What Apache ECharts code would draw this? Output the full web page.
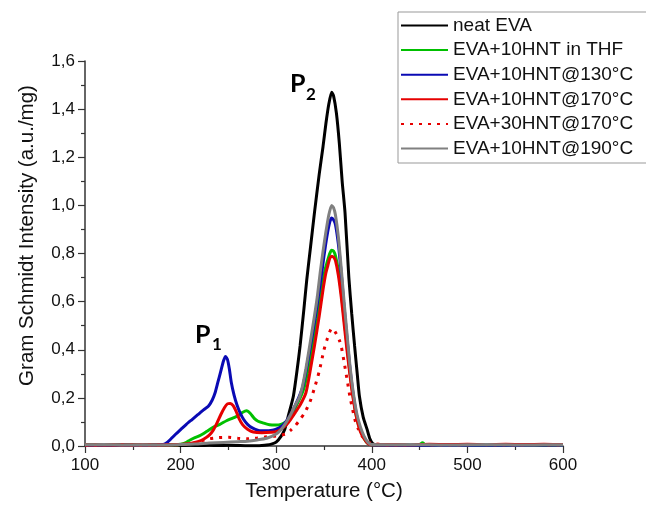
<!DOCTYPE html>
<html>
<head>
<meta charset="utf-8">
<script src="https://cdn.jsdelivr.net/npm/echarts@6/dist/echarts.min.js"></script>
<style>
html,body{margin:0;padding:0;background:#fff;}
#chart{width:646px;height:507px;}
</style>
</head>
<body>
<div id="chart"></div>
<script>
// Series names
const seriesNames = ['neat EVA','EVA+10HNT in THF','EVA+10HNT@130°C','EVA+10HNT@170°C','EVA+30HNT@170°C','EVA+10HNT@190°C'];
// Axis ticks
const xTicks = [100,200,300,400,500,600];
const yTicks = [0,0.2,0.4,0.6,0.8,1.0,1.2,1.4,1.6];

// [temperature °C, intensity a.u./mg]
const neatEVA = [[100,0.003],[110,0.004],[120,0.003],[130,0.004],[140,0.003],[150,0.004],[160,0.003],[170,0.004],[180,0.003],[190,0.003],[200,0.002],[210,0.003],[220,0.002],[230,0.003],[240,0.002],[250,0.003],[260,0.002],[270,0.001],[280,0.001],[285,0.002],[290,0.004],[295,0.008],[300,0.016],[305,0.04],[309,0.07],[313,0.13],[318,0.208],[322,0.32],[325,0.416],[329,0.57],[332,0.692],[336,0.83],[340,0.969],[345,1.13],[349,1.245],[352,1.34],[355,1.42],[358,1.47],[360,1.455],[363,1.383],[366,1.26],[369,1.1],[372,0.969],[376,0.70],[379,0.55],[382,0.416],[385,0.29],[387,0.208],[391,0.12],[395,0.07],[398,0.03],[401,0.01],[405,0.004],[410,0.003],[420,0.003],[440,0.004],[460,0.003],[480,0.005],[500,0.004],[520,0.003],[540,0.004],[560,0.005],[580,0.004],[600,0.006]];
const thf10 = [[100,0.006],[120,0.004],[140,0.005],[160,0.004],[180,0.005],[195,0.005],[200,0.007],[205,0.013],[210,0.025],[215,0.035],[220,0.043],[227,0.06],[234,0.078],[241,0.09],[248,0.105],[254,0.115],[260,0.126],[265,0.14],[269,0.146],[273,0.135],[277,0.115],[281,0.103],[287,0.095],[293,0.088],[300,0.087],[305,0.09],[310,0.1],[315,0.12],[320,0.16],[325,0.2],[329,0.24],[333,0.31],[338,0.416],[343,0.53],[348,0.66],[351,0.73],[353,0.76],[356,0.80],[358,0.814],[360,0.81],[362,0.79],[365,0.73],[368,0.64],[371,0.53],[374,0.42],[377,0.31],[380,0.22],[384,0.12],[388,0.065],[392,0.03],[396,0.01],[400,0.005],[420,0.004],[440,0.005],[450,0.006],[453,0.014],[456,0.006],[480,0.005],[500,0.004],[520,0.005],[540,0.004],[560,0.006],[580,0.005],[600,0.005]];
const hnt10at130 = [[100,0.003],[120,0.003],[140,0.004],[160,0.003],[175,0.004],[182,0.006],[186,0.015],[190,0.03],[195,0.05],[200,0.068],[206,0.09],[212,0.11],[218,0.13],[224,0.15],[229,0.165],[233,0.19],[236,0.22],[239,0.265],[242,0.31],[245,0.355],[247,0.372],[249,0.36],[251,0.32],[253,0.265],[256,0.21],[259,0.17],[262,0.14],[266,0.11],[270,0.09],[275,0.075],[283,0.063],[290,0.063],[296,0.066],[300,0.07],[305,0.08],[310,0.1],[315,0.13],[320,0.17],[324,0.205],[328,0.25],[332,0.33],[336,0.42],[341,0.54],[344,0.62],[347,0.7],[350,0.79],[353,0.87],[356,0.93],[358,0.948],[360,0.94],[362,0.92],[365,0.84],[368,0.72],[371,0.58],[374,0.45],[377,0.33],[380,0.23],[384,0.13],[388,0.07],[392,0.035],[396,0.012],[400,0.005],[420,0.003],[450,0.004],[480,0.003],[510,0.004],[540,0.003],[570,0.004],[600,0.004]];
const hnt10at170 = [[100,0.004],[120,0.005],[140,0.004],[160,0.005],[180,0.004],[200,0.006],[210,0.01],[218,0.018],[224,0.028],[230,0.045],[234,0.065],[238,0.095],[242,0.13],[246,0.16],[249,0.175],[252,0.177],[255,0.168],[258,0.145],[261,0.115],[265,0.088],[270,0.07],[276,0.058],[285,0.055],[295,0.057],[300,0.06],[305,0.07],[310,0.085],[315,0.11],[320,0.14],[325,0.17],[331,0.22],[335,0.3],[340,0.416],[345,0.54],[349,0.65],[352,0.72],[354,0.75],[356,0.78],[358,0.789],[360,0.785],[362,0.77],[365,0.71],[368,0.62],[371,0.51],[374,0.40],[377,0.30],[380,0.21],[384,0.12],[388,0.06],[392,0.03],[396,0.01],[400,0.005],[420,0.006],[440,0.005],[460,0.007],[480,0.006],[500,0.007],[520,0.006],[540,0.007],[560,0.006],[580,0.007],[600,0.006]];
const hnt30at170 = [[100,0.004],[130,0.005],[160,0.004],[190,0.005],[210,0.008],[220,0.02],[230,0.03],[240,0.035],[250,0.036],[260,0.032],[270,0.03],[280,0.033],[290,0.038],[300,0.042],[310,0.05],[315,0.065],[320,0.085],[325,0.11],[330,0.14],[335,0.18],[340,0.24],[345,0.31],[350,0.40],[353,0.44],[356,0.475],[358,0.488],[360,0.485],[363,0.465],[366,0.44],[368,0.415],[371,0.35],[374,0.28],[377,0.208],[380,0.15],[383,0.1],[386,0.07],[390,0.04],[395,0.02],[400,0.01],[420,0.005],[450,0.006],[480,0.005],[510,0.006],[540,0.005],[570,0.006],[600,0.005]];
const hnt10at190 = [[100,0.005],[120,0.006],[140,0.004],[160,0.005],[180,0.004],[200,0.006],[215,0.008],[230,0.012],[245,0.015],[260,0.018],[270,0.02],[280,0.025],[290,0.032],[300,0.05],[305,0.068],[310,0.095],[315,0.13],[320,0.17],[324,0.2],[327,0.24],[331,0.32],[335,0.416],[340,0.54],[343,0.62],[346,0.72],[349,0.81],[352,0.89],[355,0.96],[358,1.0],[360,0.99],[362,0.96],[365,0.87],[368,0.74],[371,0.6],[374,0.47],[377,0.34],[380,0.24],[384,0.14],[388,0.08],[392,0.04],[396,0.015],[400,0.006],[420,0.005],[440,0.006],[460,0.005],[480,0.004],[500,0.005],[520,0.006],[540,0.005],[560,0.004],[580,0.005],[600,0.005]];

const seriesData = [neatEVA, thf10, hnt10at130, hnt10at170, hnt30at170, hnt10at190];
const colors = ['#000000','#00c000','#0a0ab4','#e60000','#e60000','#808080'];
const lineTypes = ['solid','solid','solid','solid',[3,6],'solid'];

const chart = echarts.init(document.getElementById('chart'), null, {renderer:'canvas'});
const FONT = 'Liberation Sans, Arial, sans-serif';
const axisColor = '#333';

const option = {
  backgroundColor: '#fff',
  animation: false,
  grid: {left: 85, right: 83, top: 61, bottom: 60},
  xAxis: {
    type: 'value', min: xTicks[0], max: xTicks[xTicks.length-1], interval: 100,
    name: 'Temperature (°C)', nameLocation: 'middle', nameGap: 35,
    nameTextStyle: {fontFamily: FONT, fontSize: 20.5, color: '#111'},
    axisLine: {show: true, onZero: false, lineStyle: {color: axisColor, width: 1.5}},
    axisTick: {show: true, inside: false, length: 7, lineStyle: {color: axisColor, width: 1.2}},
    minorTick: {show: true, splitNumber: 2, length: 4, lineStyle: {color: axisColor, width: 1.2}},
    axisLabel: {fontFamily: FONT, fontSize: 17, color: '#111', margin: 11},
    splitLine: {show: false}
  },
  yAxis: {
    type: 'value', min: yTicks[0], max: yTicks[yTicks.length-1], interval: 0.2,
    name: 'Gram Schmidt Intensity (a.u./mg)', nameLocation: 'middle', nameGap: 47,
    nameTextStyle: {fontFamily: FONT, fontSize: 20.5, color: '#111', padding: [0, 0, 0, 36]},
    axisLine: {show: true, lineStyle: {color: axisColor, width: 1.5}},
    axisTick: {show: true, inside: false, length: 7, lineStyle: {color: axisColor, width: 1.2}},
    minorTick: {show: true, splitNumber: 2, length: 4, lineStyle: {color: axisColor, width: 1.2}},
    axisLabel: {fontFamily: FONT, fontSize: 17, color: '#111', margin: 10,
      formatter: v => v.toFixed(1).replace('.', ',')},
    splitLine: {show: false}
  },
  legend: {
    orient: 'vertical', left: 398, top: 12,
    padding: [4, 40, 5, 2],
    itemWidth: 47, itemHeight: 14, itemGap: 5.6,
    borderColor: '#999', borderWidth: 1, backgroundColor: '#fff',
    itemStyle: {opacity: 0},
    textStyle: {fontFamily: FONT, fontSize: 19, color: '#111', lineHeight: 19},
    data: seriesNames
  },
  series: seriesNames.map((n, i) => ({
    name: n, type: 'line', data: seriesData[i],
    symbol: 'none', showSymbol: false, smooth: 0.2,
    lineStyle: {color: colors[i], width: 3, type: lineTypes[i]},
    itemStyle: {color: colors[i]},
    z: 2
  })),
  graphic: [
    {type: 'text', x: 195, y: 335, style: {text: 'P', font: 'bold 25px Lato, "Open Sans", sans-serif', fill: '#000', verticalAlign: 'middle'}},
    {type: 'text', x: 212, y: 345, style: {text: '1', font: 'bold 17px Lato, "Open Sans", sans-serif', fill: '#000', verticalAlign: 'middle'}},
    {type: 'text', x: 290, y: 84, style: {text: 'P', font: 'bold 25px Lato, "Open Sans", sans-serif', fill: '#000', verticalAlign: 'middle'}},
    {type: 'text', x: 306, y: 95, style: {text: '2', font: 'bold 17px Lato, "Open Sans", sans-serif', fill: '#000', verticalAlign: 'middle'}}
  ]
};
chart.setOption(option);
</script>
</body>
</html>
